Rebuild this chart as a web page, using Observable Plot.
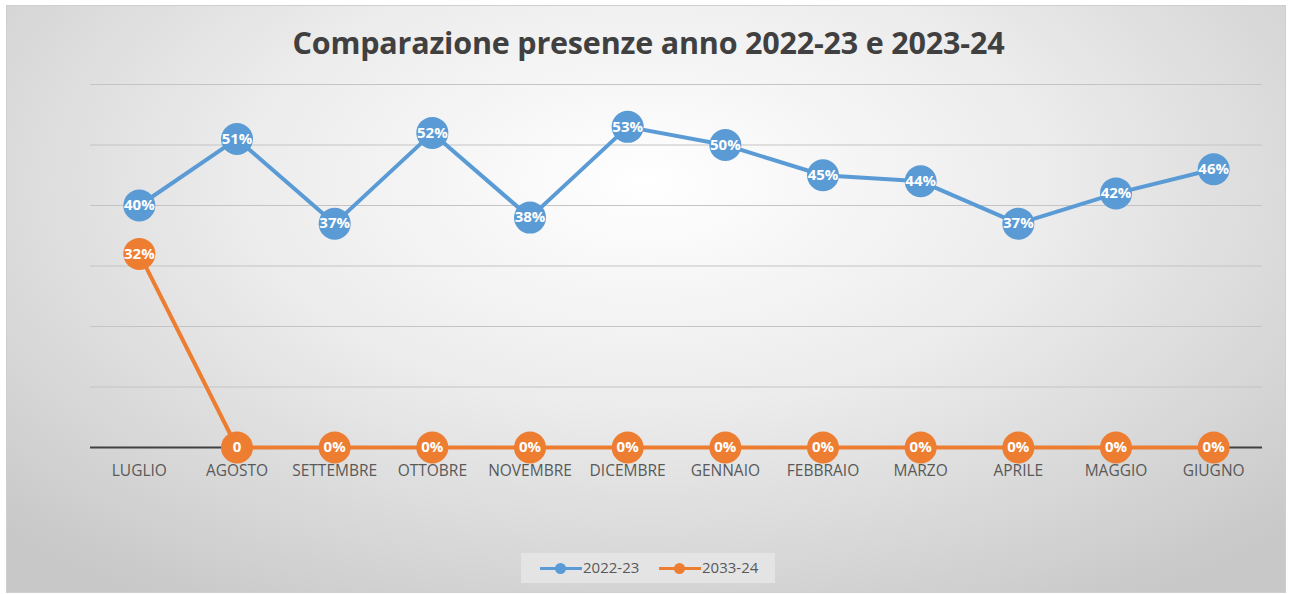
<!DOCTYPE html>
<html><head><meta charset="utf-8">
<script src="https://cdn.jsdelivr.net/npm/d3@7"></script>
<script src="https://cdn.jsdelivr.net/npm/@observablehq/plot@0.6"></script>
<style>
body{margin:0;width:1289px;height:594px;background:#fff;position:relative;overflow:hidden;font-family:"Open Sans",sans-serif;}
#frame{position:absolute;left:6px;top:5px;width:1278px;height:586px;border:1px solid #cfcfcf;
background:radial-gradient(ellipse 70% 85% at 50% 30%, #ffffff 0%, #ececec 45%, #d2d2d2 85%, #c8c8c8 100%);}
#title{position:absolute;left:0;width:1297px;top:21px;text-align:center;font-size:30.5px;font-weight:700;color:#404040;letter-spacing:-0.2px;}
#chart{position:absolute;left:0;top:0;}
#legend{position:absolute;left:521px;top:553px;width:254px;height:30px;background:#e4e4e4;font-size:15px;color:#595959;}
.li{position:absolute;top:5px;line-height:19px;}
.sw{position:absolute;top:14px;width:42px;height:3px;}
.sd{position:absolute;top:10px;width:11px;height:11px;border-radius:50%;}
</style></head>
<body>
<div id="frame"></div>
<div id="title">Comparazione presenze anno 2022-23 e 2023-24</div>
<div id="chart"></div>
<div id="legend">
  <div class="sw" style="left:19px;background:#5B9BD5"></div><div class="sd" style="left:34px;background:#5B9BD5"></div>
  <div class="li" style="left:62px">2022-23</div>
  <div class="sw" style="left:138px;background:#ED7D31"></div><div class="sd" style="left:153px;background:#ED7D31"></div>
  <div class="li" style="left:181px">2033-24</div>
</div>
<script>
const months = ["LUGLIO","AGOSTO","SETTEMBRE","OTTOBRE","NOVEMBRE","DICEMBRE","GENNAIO","FEBBRAIO","MARZO","APRILE","MAGGIO","GIUGNO"];
const values2223 = [40,51,37,52,38,53,50,45,44,37,42,46];
const values2324 = [32,0,0,0,0,0,0,0,0,0,0,0];
const labels2324 = ["32%","0","0%","0%","0%","0%","0%","0%","0%","0%","0%","0%"];
const yTicks = [10,20,30,40,50,60];

const blue = "#5B9BD5", orange = "#ED7D31";
const s1 = months.map((m,i)=>({m, v: values2223[i], label: values2223[i]+"%"}));
const s2 = months.map((m,i)=>({m, v: values2324[i], label: labels2324[i]}));

const chart = Plot.plot({
  width: 1289, height: 594,
  marginLeft: 90, marginRight: 27, marginTop: 84, marginBottom: 147,
  style: {background: "transparent", fontFamily: "Open Sans, sans-serif"},
  x: {type: "point", domain: months, padding: 0.5, round: false, label: null},
  y: {domain: [0, 60], axis: null},
  marks: [
    Plot.ruleY(yTicks, {stroke: "#c4c4c4", strokeWidth: 1.2}),
    Plot.ruleY([0], {stroke: "#404040", strokeWidth: 2}),
    Plot.axisX({tickSize: 0, tickPadding: 17, fontSize: 15.5, fill: "#595959", label: null}),
    Plot.line(s1, {x: "m", y: "v", stroke: blue, strokeWidth: 4}),
    Plot.dot(s1, {x: "m", y: "v", r: 16, fill: blue, stroke: "none"}),
    Plot.text(s1, {x: "m", y: "v", text: "label", fill: "white", fontSize: 15, fontWeight: "bold"}),
    Plot.line(s2, {x: "m", y: "v", stroke: orange, strokeWidth: 4}),
    Plot.dot(s2, {x: "m", y: "v", r: 16, fill: orange, stroke: "none"}),
    Plot.text(s2, {x: "m", y: "v", text: "label", fill: "white", fontSize: 15, fontWeight: "bold"})
  ]
});
document.getElementById("chart").appendChild(chart);
</script>
</body></html>
